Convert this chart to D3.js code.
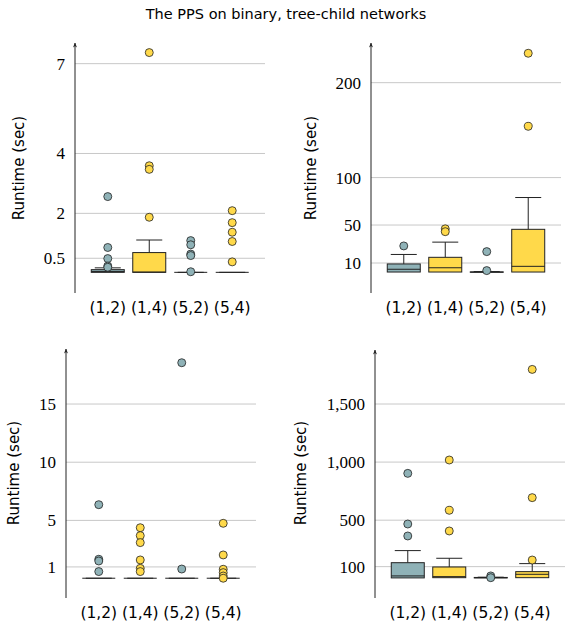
<!DOCTYPE html>
<html>
<head>
<meta charset="utf-8">
<script src="https://cdn.jsdelivr.net/npm/d3@7"></script>
<style>
  body { margin: 0; background: #fff; }
  svg { display: block; }
  .cat { font-family: "DejaVu Sans", sans-serif; font-size: 15.5px; }
  .tick-lbl { font-family: "Liberation Serif", serif; font-size: 17px; }
  .ylabel { font-family: "DejaVu Sans", sans-serif; font-size: 15px; }
  .title { font-family: "DejaVu Sans", sans-serif; font-size: 14.5px; }
</style>
</head>
<body>
<div id="chart-container"></div>
<script>
// Categories and colours
var categories = ["(1,2)", "(1,4)", "(5,2)", "(5,4)"];
var fills = ["#8fb2b7", "#ffd94a", "#8fb2b7", "#ffd94a"];

// Top left: box stats per category [q1, median, q3, upper whisker]
var tlBoxes = [[0.03, 0.06, 0.12, 0.18], [0.03, 0.04, 0.69, 1.11], [0.03, 0.03, 0.03, 0.03], [0.03, 0.03, 0.03, 0.03]];
var tlOutliers = [[2.56, 0.86, 0.49, 0.24, 0.2], [7.37, 3.59, 3.47, 1.87], [1.09, 0.95, 0.64, 0.59, 0.05], [2.09, 1.69, 1.37, 1.06, 0.38]];
var tlTicks = [0.5, 2, 4, 7];

// Top right
var trBoxes = [[0.5, 3.4, 9, 19], [0.5, 5, 16, 32], [0.3, 0.4, 0.6, 1], [0.5, 6.5, 45.5, 79]];
var trOutliers = [[28], [46, 43], [22, 2], [231, 154]];
var trTicks = [10, 50, 100, 200];

// Bottom left
var blBoxes = [[0.03, 0.03, 0.03, 0.03], [0.03, 0.03, 0.03, 0.03], [0.03, 0.03, 0.03, 0.03], [0.03, 0.03, 0.03, 0.03]];
var blOutliers = [[6.35, 1.66, 1.51, 0.6], [4.37, 3.69, 3.09, 1.6, 0.88, 0.6], [18.55, 0.82], [4.75, 2.03, 0.8, 0.51, 0.22, 0.03]];
var blTicks = [1, 5, 10, 15];

// Bottom right
var brBoxes = [[3, 20, 134, 238], [5, 14, 97, 172], [3, 5, 7, 9], [5, 34, 57, 126]];
var brOutliers = [[903, 467, 364], [1018, 585, 407], [20, 5], [1798, 694, 157]];
var brTicks = [100, 500, 1000, 1500];

var svg = d3.select("#chart-container")
  .append("svg")
  .attr("width", 572)
  .attr("height", 630);

svg.append("defs").append("marker")
  .attr("id", "arrow")
  .attr("viewBox", "0 0 10 10")
  .attr("refX", 9).attr("refY", 5)
  .attr("markerWidth", 5).attr("markerHeight", 5)
  .attr("orient", "auto")
  .append("path")
  .attr("d", "M0,1 L10,5 L0,9 L3,5 Z")
  .attr("fill", "#222");

svg.append("text")
  .attr("class", "title")
  .attr("x", 286).attr("y", 19)
  .attr("text-anchor", "middle")
  .text("The PPS on binary, tree-child networks");

function drawPanel(opt) {
  var g = svg.append("g");
  var x = d3.scalePoint().domain(categories).range([opt.x0, opt.x0 + 190]).padding(0.79);
  var y = d3.scaleLinear().domain(opt.domain).range([opt.bottom, opt.top]);
  var boxW = 33, capW = 26;

  // grid lines
  g.selectAll(".grid").data(opt.ticks).enter().append("line")
    .attr("x1", opt.x0).attr("x2", opt.x0 + 190)
    .attr("y1", function(d) { return y(d); })
    .attr("y2", function(d) { return y(d); })
    .attr("stroke", "#c8c8c8").attr("stroke-width", 1);

  // tick labels
  g.selectAll(".tick-lbl").data(opt.ticks).enter().append("text")
    .attr("class", "tick-lbl")
    .attr("x", opt.x0 - 10)
    .attr("y", function(d) { return y(d); })
    .attr("dy", "0.35em")
    .attr("text-anchor", "end")
    .text(d3.format(","));

  // y axis with arrow
  g.append("line")
    .attr("x1", opt.x0).attr("x2", opt.x0)
    .attr("y1", opt.bottom).attr("y2", opt.top)
    .attr("stroke", "#222").attr("stroke-width", 1)
    .attr("marker-end", "url(#arrow)");

  g.append("text")
    .attr("class", "ylabel")
    .attr("transform", "translate(" + opt.labelX + "," + opt.labelY + ") rotate(-90)")
    .attr("text-anchor", "middle")
    .text("Runtime (sec)");

  // category labels
  g.selectAll(".cat").data(categories).enter().append("text")
    .attr("class", "cat")
    .attr("x", function(d) { return x(d); })
    .attr("y", opt.bottom + 20)
    .attr("text-anchor", "middle")
    .text(function(d) { return d; });

  opt.boxes.forEach(function(b, i) {
    var cx = x(categories[i]);
    // whisker
    g.append("line")
      .attr("x1", cx).attr("x2", cx)
      .attr("y1", y(b[2])).attr("y2", y(b[3]))
      .attr("stroke", "#222");
    g.append("line")
      .attr("x1", cx - capW / 2).attr("x2", cx + capW / 2)
      .attr("y1", y(b[3])).attr("y2", y(b[3]))
      .attr("stroke", "#222");
    // box
    g.append("rect")
      .attr("x", cx - boxW / 2)
      .attr("y", y(b[2]))
      .attr("width", boxW)
      .attr("height", Math.max(0, y(b[0]) - y(b[2])))
      .attr("fill", fills[i])
      .attr("stroke", "#222").attr("stroke-width", 1);
    // median
    g.append("line")
      .attr("x1", cx - boxW / 2).attr("x2", cx + boxW / 2)
      .attr("y1", y(b[1])).attr("y2", y(b[1]))
      .attr("stroke", "#222");
  });

  opt.outliers.forEach(function(list, i) {
    g.selectAll(null).data(list).enter().append("circle")
      .attr("cx", x(categories[i]))
      .attr("cy", function(d) { return y(d); })
      .attr("r", 4)
      .attr("fill", fills[i])
      .attr("stroke", "#222").attr("stroke-width", 0.8);
  });
}

drawPanel({ x0: 75, top: 43, bottom: 293, domain: [-0.66, 7.69], ticks: tlTicks,
  boxes: tlBoxes, outliers: tlOutliers, labelX: 24, labelY: 168 });
drawPanel({ x0: 371, top: 43, bottom: 293, domain: [-21.6, 241.8], ticks: trTicks,
  boxes: trBoxes, outliers: trOutliers, labelX: 316, labelY: 168 });
drawPanel({ x0: 66, top: 349, bottom: 598, domain: [-1.67, 19.73], ticks: blTicks,
  boxes: blBoxes, outliers: blOutliers, labelX: 19, labelY: 473 });
drawPanel({ x0: 375, top: 350, bottom: 598, domain: [-170, 1965], ticks: brTicks,
  boxes: brBoxes, outliers: brOutliers, labelX: 306, labelY: 473 });
</script>
</body>
</html>
